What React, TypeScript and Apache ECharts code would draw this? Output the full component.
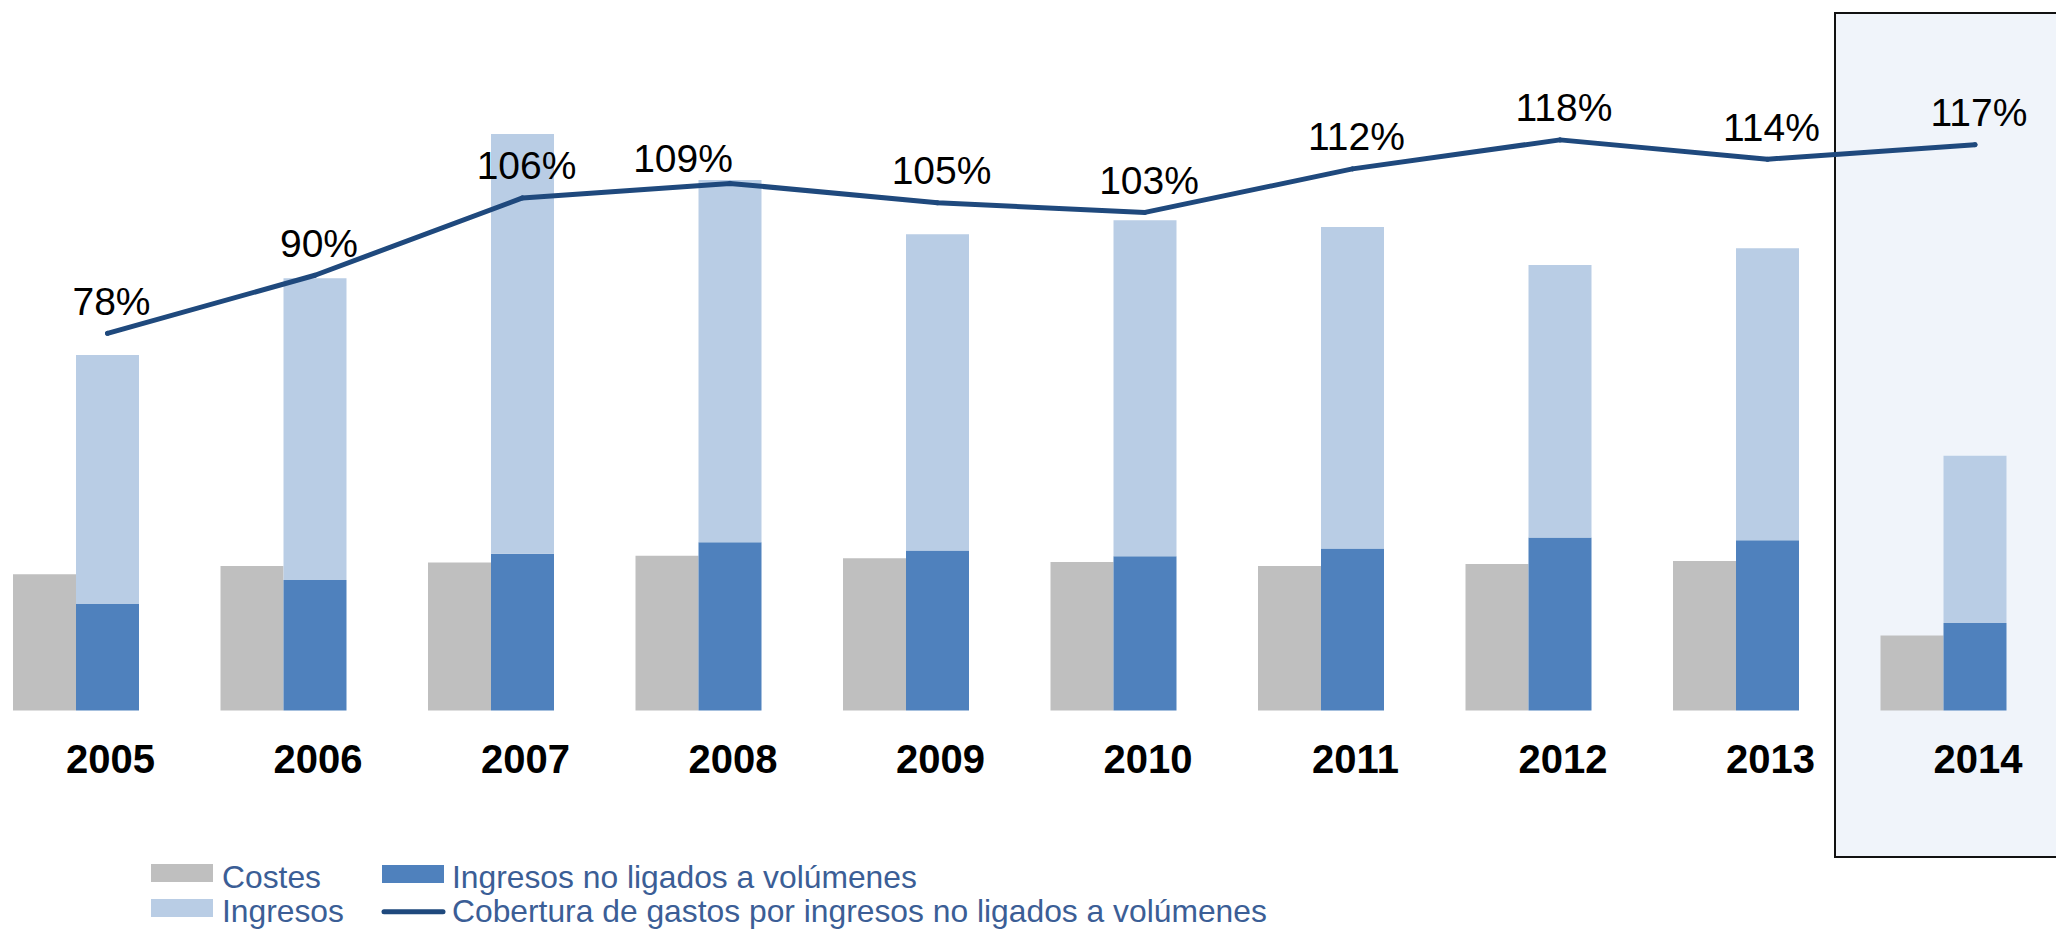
import React, { useEffect, useRef } from "react";
import * as echarts from "echarts";

const categories = ["2005", "2006", "2007", "2008", "2009", "2010", "2011", "2012", "2013", "2014"];
const costes = [282, 299, 306, 320, 315, 307, 299, 303, 309, 155];
const ingresosNoLigados = [220, 270, 324, 348, 331, 319, 335, 358, 352, 181];
const ingresos = [735, 894, 1192, 1097, 985, 1014, 1000, 921, 956, 527];
const cobertura = [78, 90, 106, 109, 105, 103, 112, 118, 114, 117];

const FONT = "'Liberation Sans', Arial, Helvetica, sans-serif";
const C_GRAY = "#BFBFBF";
const C_LIGHT = "#B9CDE5";
const C_DARK = "#4F81BD";
const C_LINE = "#1F497D";
const C_LEGEND = "#3B5E96";

export default function App() {
  const ref = useRef<HTMLDivElement>(null);

  useEffect(() => {
    if (!ref.current) return;
    const chart = echarts.init(ref.current, null, { renderer: "svg" });

    const band = 207.5;
    const gridWidth = band * categories.length;
    const baseLeft = 76 - band / 2;
    const shift = 31.5;
    const gridTop = 9.3;
    const gridHeight = 710.5 - gridTop;

    const ingresosResto = ingresos.map((v, i) => v - ingresosNoLigados[i]);

    const lineData = cobertura.map((v, i) =>
      categories[i] === "2008"
        ? { value: v, label: { offset: [-47, 7] } }
        : { value: v }
    );

    const legendText = (text: string, x: number, y: number) => ({
      type: "text",
      x,
      y,
      style: {
        text,
        fill: C_LEGEND,
        font: `31.8px ${FONT}`,
        textAlign: "left",
        textVerticalAlign: "middle",
        align: "left",
        verticalAlign: "middle",
      },
    });

    const option: any = {
      animation: false,
      backgroundColor: "#ffffff",
      grid: [
        {
          left: baseLeft,
          width: gridWidth,
          top: gridTop,
          height: gridHeight,
          containLabel: false,
          outerBoundsMode: "none",
        },
        {
          left: baseLeft + shift,
          width: gridWidth,
          top: gridTop,
          height: gridHeight,
          containLabel: false,
          outerBoundsMode: "none",
        },
      ],
      xAxis: [
        {
          type: "category",
          gridIndex: 0,
          data: categories,
          axisLine: { show: false },
          axisTick: { show: false },
          axisLabel: { show: false },
          splitLine: { show: false },
        },
        {
          type: "category",
          gridIndex: 1,
          data: categories,
          axisLine: { show: false },
          axisTick: { show: false },
          splitLine: { show: false },
          axisLabel: {
            show: true,
            interval: 0,
            margin: 28.5,
            color: "#000000",
            fontFamily: FONT,
            fontWeight: "bold",
            fontSize: 40,
            padding: [0, 0, 0, 6],
          },
        },
      ],
      yAxis: [
        { type: "value", gridIndex: 0, min: 0, max: 1450, show: false },
        { type: "value", gridIndex: 1, min: 0, max: 145, show: false },
      ],
      graphic: [
        {
          type: "rect",
          z: -10,
          shape: { x: 1835, y: 13, width: 240, height: 844 },
          style: { fill: "#F0F4FA", stroke: "#111111", lineWidth: 2 },
        },
        { type: "rect", shape: { x: 151, y: 864, width: 62, height: 18 }, style: { fill: C_GRAY } },
        legendText("Costes", 222, 876.5),
        { type: "rect", shape: { x: 151, y: 899, width: 62, height: 18 }, style: { fill: C_LIGHT } },
        legendText("Ingresos", 222, 911),
        { type: "rect", shape: { x: 382, y: 865, width: 62, height: 18 }, style: { fill: C_DARK } },
        legendText("Ingresos no ligados a volúmenes", 452, 876.5),
        {
          type: "line",
          shape: { x1: 384, y1: 911.8, x2: 443, y2: 911.8 },
          style: { stroke: C_LINE, lineWidth: 5, lineCap: "round" },
        },
        legendText("Cobertura de gastos por ingresos no ligados a volúmenes", 452, 911),
      ],
      series: [
        {
          name: "Costes",
          type: "bar",
          xAxisIndex: 0,
          yAxisIndex: 0,
          stack: "costes",
          barWidth: 63,
          barGap: "0%",
          itemStyle: { color: C_GRAY },
          data: costes,
        },
        {
          name: "Ingresos no ligados a volúmenes",
          type: "bar",
          xAxisIndex: 0,
          yAxisIndex: 0,
          stack: "ingresos",
          barWidth: 63,
          barGap: "0%",
          itemStyle: { color: C_DARK },
          data: ingresosNoLigados,
        },
        {
          name: "Ingresos",
          type: "bar",
          xAxisIndex: 0,
          yAxisIndex: 0,
          stack: "ingresos",
          barWidth: 63,
          barGap: "0%",
          itemStyle: { color: C_LIGHT },
          data: ingresosResto,
        },
        {
          name: "Cobertura de gastos por ingresos no ligados a volúmenes",
          type: "line",
          xAxisIndex: 1,
          yAxisIndex: 1,
          symbol: "circle",
          symbolSize: 5,
          itemStyle: { color: C_LINE },
          lineStyle: { color: C_LINE, width: 5, cap: "round", join: "round" },
          label: {
            show: true,
            position: "top",
            distance: 10,
            offset: [4, 0],
            formatter: "{c}%",
            color: "#000000",
            fontFamily: FONT,
            fontSize: 39,
          },
          z: 5,
          data: lineData,
        },
      ],
    };

    chart.setOption(option);
    return () => chart.dispose();
  }, []);

  return (
    <div
      ref={ref}
      style={{ position: "absolute", left: 0, top: 0, width: 2056, height: 933 }}
    />
  );
}
